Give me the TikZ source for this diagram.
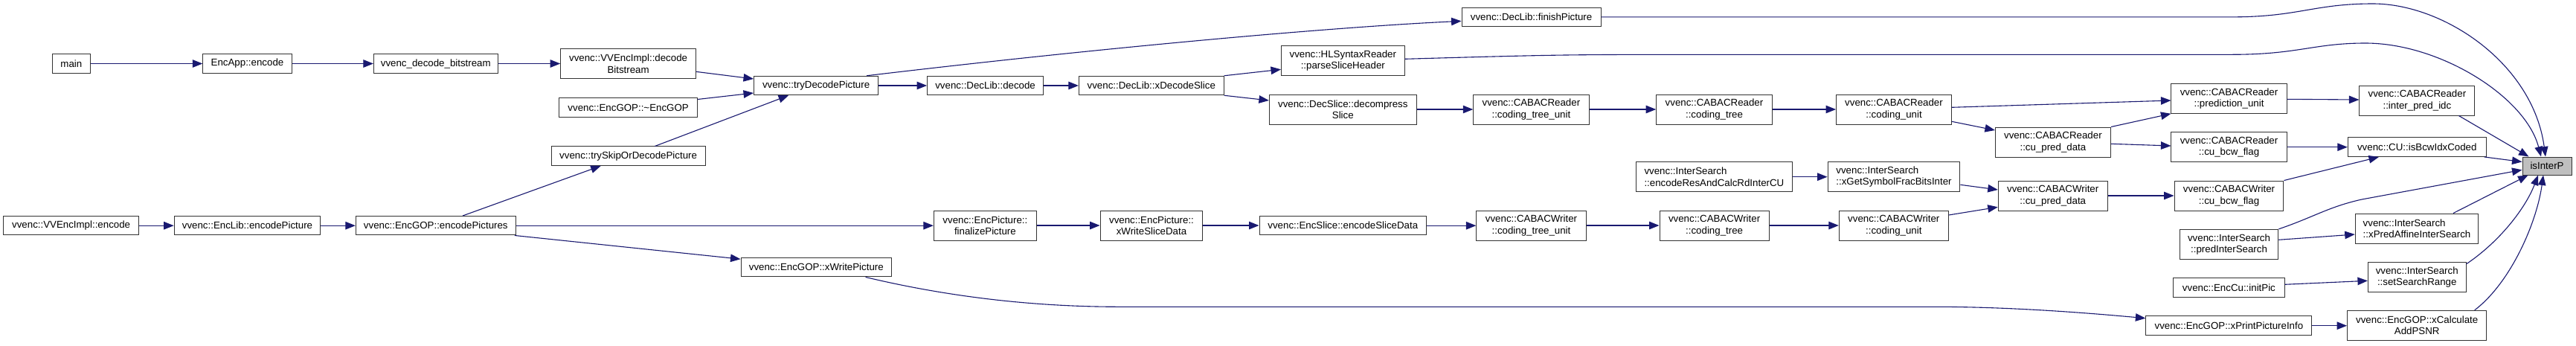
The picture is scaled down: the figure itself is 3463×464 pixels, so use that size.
\documentclass[tikz,border=0pt]{standalone}
\usepackage{fontspec}
\setmainfont{Liberation Sans}
\usetikzlibrary{arrows.meta}
\definecolor{edgec}{HTML}{191970}
\definecolor{boxc}{HTML}{333333}
\definecolor{ispfill}{HTML}{BFBFBF}
\newcommand{\dxfont}{\fontsize{13.3}{15.3}\selectfont}
\tikzset{
  box/.style={draw=boxc, line width=1pt, inner sep=0pt, minimum height=25.5pt, font=\dxfont, align=center, fill=white},
  box2/.style={box, minimum height=40pt},
  box2l/.style={box2, align=left},
  edge/.style={draw=edgec, line width=1.1pt, -{Triangle[length=13.5pt,width=10.5pt]}}
}
\begin{document}
\begin{tikzpicture}[x=1pt,y=-1pt]
\fill[white] (0,0) rectangle (3463,464);
\useasboundingbox (0,0) rectangle (3463,464);
% nodes
\node[box, minimum width=50.9pt] (main) at (95.9,85.5) {main};
\node[box, minimum width=119.4pt] (appenc) at (332.5,85.5) {EncApp::encode};
\node[box, minimum width=166.8pt] (decbs) at (585.8,85.5) {vvenc\_decode\_bitstream};
\node[box2, minimum width=181.8pt] (implbs) at (844.6,85.85) {vvenc::VVEncImpl::decode\\Bitstream};
\node[box, minimum width=185.6pt] (gopdtor) at (844.6,144.5) {vvenc::EncGOP::\textasciitilde EncGOP};
\node[box, minimum width=207pt] (tryskip) at (844.6,209.7) {vvenc::trySkipOrDecodePicture};
\node[box, minimum width=167.2pt] (trydec) at (1097.1,115) {vvenc::tryDecodePicture};
\node[box, minimum width=182.1pt] (implenc) at (95.65,303.2) {vvenc::VVEncImpl::encode};
\node[box, minimum width=196.7pt] (libenc) at (332.5,303.2) {vvenc::EncLib::encodePicture};
\node[box, minimum width=215pt] (encpics) at (585.8,303.2) {vvenc::EncGOP::encodePictures};
\node[box, minimum width=202.6pt] (xwrite) at (1097.3,359.2) {vvenc::EncGOP::xWritePicture};
\node[box, minimum width=156.1pt] (libdec) at (1324.6,115) {vvenc::DecLib::decode};
\node[box, minimum width=194.8pt] (xdecsl) at (1547.8,115) {vvenc::DecLib::xDecodeSlice};
\node[box, minimum width=187.1pt] (finpic) at (2058.6,22.85) {vvenc::DecLib::finishPicture};
\node[box2, minimum width=165.6pt] (parsesh) at (1805.3,81.7) {vvenc::HLSyntaxReader\\::parseSliceHeader};
\node[box2, minimum width=197.8pt] (decomp) at (1805.3,147) {vvenc::DecSlice::decompress\\Slice};
\node[box2, minimum width=155.3pt] (rctu) at (2058.4,147) {vvenc::CABACReader\\::coding\_tree\_unit};
\node[box2, minimum width=155.6pt] (rct) at (2304.5,147) {vvenc::CABACReader\\::coding\_tree};
\node[box2, minimum width=154.9pt] (rcu) at (2546,147) {vvenc::CABACReader\\::coding\_unit};
\node[box2, minimum width=155pt] (rcpd) at (2759.9,191) {vvenc::CABACReader\\::cu\_pred\_data};
\node[box2, minimum width=155.1pt] (rpu) at (2996.5,132.3) {vvenc::CABACReader\\::prediction\_unit};
\node[box2, minimum width=155pt] (ripi) at (3249.4,135) {vvenc::CABACReader\\::inter\_pred\_idc};
\node[box2, minimum width=155.1pt] (rcbf) at (2996.5,197.7) {vvenc::CABACReader\\::cu\_bcw\_flag};
\node[box, minimum width=185.9pt] (bcw) at (3249.25,197.7) {vvenc::CU::isBcwIdxCoded};
\node[box2l, minimum width=209.6pt] (erc) at (2304.4,237.7) {vvenc::InterSearch\\::encodeResAndCalcRdInterCU};
\node[box2l, minimum width=177.9pt] (xgs) at (2546,237.7) {vvenc::InterSearch\\::xGetSymbolFracBitsInter};
\node[box2, minimum width=146.9pt] (wcpd) at (2759.7,263) {vvenc::CABACWriter\\::cu\_pred\_data};
\node[box2, minimum width=146.9pt] (wcu) at (2545.8,303) {vvenc::CABACWriter\\::coding\_unit};
\node[box2, minimum width=147.2pt] (wct) at (2304.6,303) {vvenc::CABACWriter\\::coding\_tree};
\node[box2, minimum width=147.3pt] (wctu) at (2058.5,303) {vvenc::CABACWriter\\::coding\_tree\_unit};
\node[box2, minimum width=146.9pt] (wcbf) at (2996.5,263) {vvenc::CABACWriter\\::cu\_bcw\_flag};
\node[box2, minimum width=132.7pt] (pis) at (2996.5,328.3) {vvenc::InterSearch\\::predInterSearch};
\node[box2l, minimum width=165.5pt] (xpa) at (3249,307) {vvenc::InterSearch\\::xPredAffineInterSearch};
\node[box, minimum width=149.5pt] (eci) at (2996.4,386.7) {vvenc::EncCu::initPic};
\node[box2, minimum width=131.6pt] (ssr) at (3249.2,372.3) {vvenc::InterSearch\\::setSearchRange};
\node[box, minimum width=223.1pt] (xpp) at (2996.4,437.7) {vvenc::EncGOP::xPrintPictureInfo};
\node[box2, minimum width=187.4pt] (xca) at (3249.2,437.3) {vvenc::EncGOP::xCalculate\\AddPSNR};
\node[box2, minimum width=138.1pt] (fpic) at (1324.4,303) {vvenc::EncPicture::\\finalizePicture};
\node[box2, minimum width=137.8pt] (xwsd) at (1548,303) {vvenc::EncPicture::\\xWriteSliceData};
\node[box, minimum width=224.6pt] (esd) at (1805.3,303.2) {vvenc::EncSlice::encodeSliceData};
\node[box, fill=ispfill, minimum width=66pt, minimum height=24pt] (isp) at (3424,223) {isInterP};
% edges
\draw[edge] (main) -- (appenc);
\draw[edge] (appenc) -- (decbs);
\draw[edge] (decbs.east) -- (decbs.east -| implbs.west);
\draw[edge] ([yshift=-10.5pt]implbs.east) -- ([yshift=9pt]trydec.west);
\draw[edge] ([yshift=11pt]gopdtor.east) -- ([yshift=-10pt]trydec.west);
\draw[edge] ([xshift=35.8pt]tryskip.north) -- ([xshift=-37pt]trydec.south);
\draw[edge] (implenc) -- (libenc);
\draw[edge] (libenc) -- (encpics);
\draw[edge] ([xshift=36.3pt]encpics.north) -- ([xshift=-36.9pt]tryskip.south);
\draw[edge] (encpics.east) -- (encpics.east -| fpic.west);
\draw[edge] ([xshift=-2pt]encpics.south east) -- ([yshift=11pt]xwrite.west);
\draw[edge] (trydec) -- (libdec);
\draw[edge] ([xshift=68pt]trydec.north) .. controls (1500,62) and (1800,36) .. ([yshift=-5.5pt]finpic.west);
\draw[edge] (libdec) -- (xdecsl);
\draw[edge] (xdecsl.north east) -- ([yshift=-11.6pt]parsesh.west);
\draw[edge] (xdecsl.south east) -- ([yshift=12pt]decomp.west);
\draw[edge] (decomp) -- (rctu);
\draw[edge] (rctu) -- (rct);
\draw[edge] (rct) -- (rcu);
\draw[edge] ([yshift=2.7pt]rcu.east) -- ([yshift=-2.7pt]rpu.west);
\draw[edge] ([yshift=-16.3pt]rcu.east) -- ([yshift=16pt]rcpd.west);
\draw[edge] (rcpd.north east) -- (rpu.south west);
\draw[edge] ([yshift=-2.3pt]rcpd.east) -- ([yshift=1.7pt]rcbf.west);
\draw[edge] (erc) -- (xgs);
\draw[edge] ([yshift=-10.6pt]xgs.east) -- ([yshift=8pt]wcpd.west);
\draw[edge] ([yshift=14pt]wcu.east) -- ([yshift=-15.3pt]wcpd.west);
\draw[edge] (wcpd) -- (wcbf);
\draw[edge] (fpic) -- (xwsd);
\draw[edge] (xwsd.east) -- (xwsd.east -| esd.west);
\draw[edge] (esd.east) -- (esd.east -| wctu.west);
\draw[edge] (wctu) -- (wct);
\draw[edge] (wct) -- (wcu);
\draw[edge] ([xshift=66.3pt]xwrite.south) .. controls (1300,405) and (1420,412.3) .. (1504,412.3) -- (2600,412.3) .. controls (2700,412.3) and (2800,420) .. ([yshift=10pt]xpp.west);
\draw[edge] ([yshift=-1pt]rpu.east) -- ([yshift=1pt]ripi.west);
\draw[edge] (rcbf) -- (bcw);
\draw[edge] (wcbf.north east) -- ([xshift=-51.3pt]bcw.south);
\draw[edge] ([yshift=6pt]pis.east) -- ([yshift=-8pt]xpa.west);
\draw[edge] ([yshift=4.4pt]eci.east) -- ([yshift=-5pt]ssr.west);
\draw[edge] (xpp.east) -- (xpp.east -| xca.west);
% edges into isInterP
\draw[edge] (finpic.east) -- (3000,22.85) .. controls (3090,22.85) and (3110,5) .. (3190,5) .. controls (3285,5) and (3405,85) .. ([xshift=-2pt]isp.north);
\draw[edge] ([yshift=2.4pt]parsesh.east) .. controls (2100,73.3) .. (2320,73.3) -- (3000,73.3) .. controls (3090,73.3) and (3110,58) .. (3180,58) .. controls (3280,58) and (3395,130) .. ([xshift=-8pt]isp.north);
\draw[edge] ([xshift=56pt]ripi.south) -- ([xshift=9pt]isp.north west);
\draw[edge] ([xshift=-3pt]bcw.south east) -- ([yshift=5.5pt]isp.west);
\draw[edge] (pis.north east) .. controls (3110,292) and (3130,278) .. (3175,268) -- ([yshift=-5.3pt]isp.west);
\draw[edge] ([xshift=49pt]xpa.north) -- ([xshift=8pt]isp.south west);
\draw[edge] ([yshift=-3pt]ssr.north east) .. controls (3360,325) and (3395,280) .. ([xshift=-12pt]isp.south);
\draw[edge] ([xshift=77.5pt]xca.north) .. controls (3375,380) and (3410,300) .. ([xshift=-5pt]isp.south);
\end{tikzpicture}
\end{document}
